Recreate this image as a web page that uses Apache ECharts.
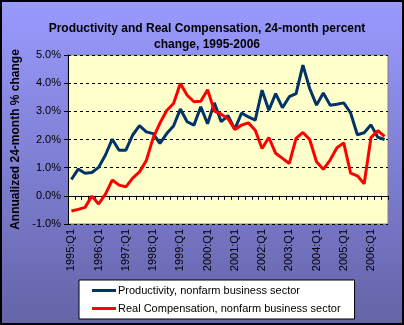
<!DOCTYPE html>
<html>
<head>
<meta charset="utf-8">
<script src="https://cdn.jsdelivr.net/npm/echarts@6/dist/echarts.min.js"></script>
<style>
  html, body { margin: 0; padding: 0; }
  #chart { width: 404px; height: 325px; }
</style>
</head>
<body>
<div id="chart"></div>
<script>
// Quarterly categories, 1995:Q1 through 2006:Q3
const quarters = [
  '1995:Q1','1995:Q2','1995:Q3','1995:Q4',
  '1996:Q1','1996:Q2','1996:Q3','1996:Q4',
  '1997:Q1','1997:Q2','1997:Q3','1997:Q4',
  '1998:Q1','1998:Q2','1998:Q3','1998:Q4',
  '1999:Q1','1999:Q2','1999:Q3','1999:Q4',
  '2000:Q1','2000:Q2','2000:Q3','2000:Q4',
  '2001:Q1','2001:Q2','2001:Q3','2001:Q4',
  '2002:Q1','2002:Q2','2002:Q3','2002:Q4',
  '2003:Q1','2003:Q2','2003:Q3','2003:Q4',
  '2004:Q1','2004:Q2','2004:Q3','2004:Q4',
  '2005:Q1','2005:Q2','2005:Q3','2005:Q4',
  '2006:Q1','2006:Q2','2006:Q3'
];

// Annualized 24-month percent change
const productivity = [
  0.58, 0.95, 0.80, 0.83, 1.01, 1.45, 2.01, 1.62, 1.62, 2.16,
  2.49, 2.27, 2.21, 1.86, 2.21, 2.48, 3.08, 2.63, 2.51, 3.16,
  2.56, 3.30, 2.63, 2.85, 2.37, 2.94, 2.80, 2.69, 3.75, 3.04,
  3.63, 3.13, 3.52, 3.63, 4.64, 3.81, 3.22, 3.65, 3.22, 3.25,
  3.30, 2.95, 2.17, 2.24, 2.52, 2.08, 2.00
];
const realCompensation = [
  -0.54, -0.48, -0.41, -0.01, -0.29, 0.06, 0.56, 0.38, 0.32, 0.63,
  0.85, 1.25, 2.05, 2.58, 3.03, 3.28, 3.99, 3.57, 3.34, 3.36,
  3.77, 3.01, 2.90, 2.74, 2.36, 2.51, 2.59, 2.33, 1.68, 2.07,
  1.51, 1.33, 1.15, 2.04, 2.25, 2.00, 1.21, 0.94, 1.27, 1.71,
  1.88, 0.81, 0.71, 0.43, 2.07, 2.31, 2.11
];

const yTicks = { min: -1, max: 5, step: 1 };

const FONT = 'Liberation Sans, Arial, sans-serif';

const chart = echarts.init(document.getElementById('chart'), null, { renderer: 'canvas' });

chart.setOption({
  animation: false,
  backgroundColor: {
    type: 'linear', x: 0, y: 0, x2: 0, y2: 1,
    colorStops: [
      { offset: 0, color: '#9a9aff' },
      { offset: 1, color: '#6464a8' }
    ]
  },
  title: {
    text: 'Productivity and Real Compensation, 24-month percent\nchange, 1995-2006',
    left: 202,
    top: 16,
    textAlign: 'center',
    textStyle: {
      fontFamily: FONT, fontSize: 12, fontWeight: 'bold',
      color: '#000', lineHeight: 16
    }
  },
  grid: {
    left: 68, right: 16, top: 55, bottom: 101,
    show: true,
    backgroundColor: '#ffffcc',
    borderColor: '#808080',
    borderWidth: 1
  },
  legend: {
    orient: 'vertical',
    left: 79,
    top: 280,
    padding: [5, 14, 5, 13],
    itemGap: 7,
    itemWidth: 24,
    itemHeight: 3,
    icon: 'rect',
    backgroundColor: '#ffffff',
    borderColor: '#000000',
    borderWidth: 1,
    textStyle: { fontFamily: FONT, fontSize: 11, color: '#000', padding: [0, 0, 0, -3] },
    data: [
      'Productivity, nonfarm business sector',
      'Real Compensation, nonfarm business sector'
    ]
  },
  xAxis: {
    type: 'category',
    data: quarters,
    boundaryGap: true,
    axisLine: { lineStyle: { color: '#000', width: 1 } },
    axisTick: { show: true, interval: 0, length: 4, lineStyle: { color: '#000' } },
    axisLabel: {
      interval: 3,
      rotate: 90,
      margin: 5,
      fontFamily: FONT, fontSize: 11, color: '#000'
    },
    splitLine: { show: false }
  },
  yAxis: {
    type: 'value',
    min: yTicks.min,
    max: yTicks.max,
    interval: yTicks.step,
    name: 'Annualized 24-month % change',
    nameLocation: 'middle',
    nameRotate: 90,
    nameGap: 45,
    nameTextStyle: { fontFamily: FONT, fontSize: 12, fontWeight: 'bold', color: '#000' },
    axisLine: { show: true, lineStyle: { color: '#000', width: 1 } },
    axisTick: { show: true, length: 4, lineStyle: { color: '#000' } },
    axisLabel: {
      margin: 7,
      fontFamily: FONT, fontSize: 11, color: '#000',
      formatter: v => v.toFixed(1) + '%'
    },
    splitLine: { show: true, lineStyle: { color: '#000', type: [3, 3], width: 1 } }
  },
  series: [
    {
      name: 'Productivity, nonfarm business sector',
      type: 'line',
      data: productivity,
      symbol: 'none',
      color: '#003366',
      lineStyle: { color: '#003366', width: 3 }
    },
    {
      name: 'Real Compensation, nonfarm business sector',
      type: 'line',
      data: realCompensation,
      symbol: 'none',
      color: '#ff0000',
      lineStyle: { color: '#ff0000', width: 3 }
    }
  ],
  graphic: [
    {
      type: 'rect',
      shape: { x: 1, y: 1, width: 402, height: 323 },
      style: { fill: 'none', stroke: '#000', lineWidth: 2 },
      silent: true
    }
  ]
});
</script>
</body>
</html>
